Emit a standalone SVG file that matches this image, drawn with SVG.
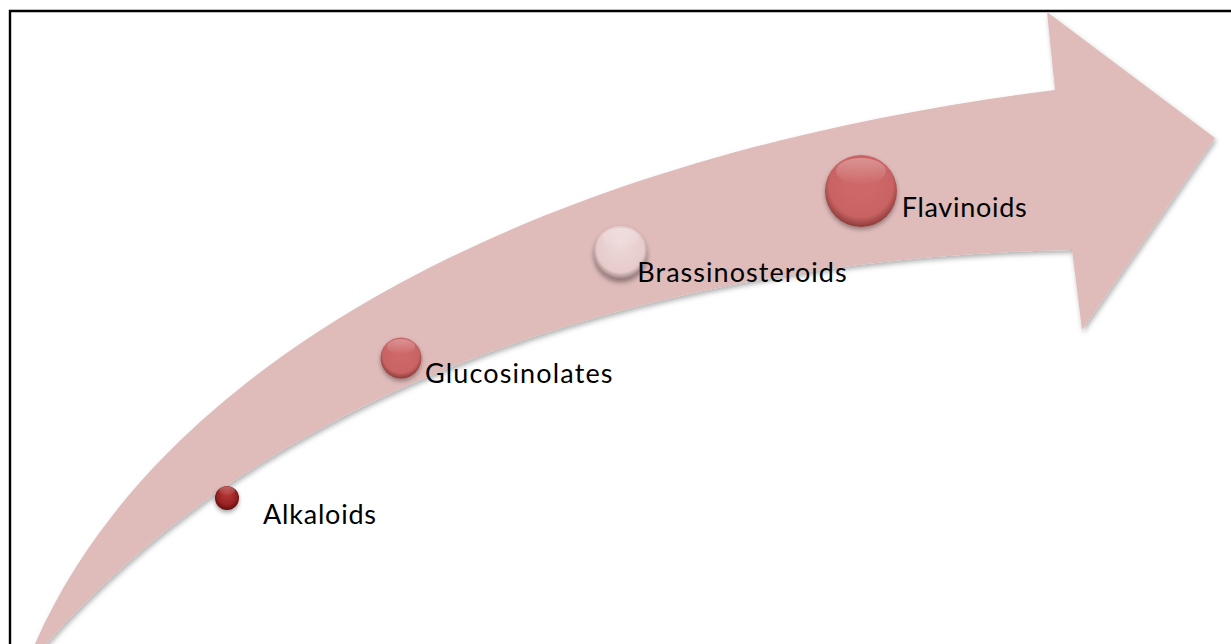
<svg xmlns="http://www.w3.org/2000/svg" width="1231" height="644" viewBox="0 0 1231 644">
  <defs>
    <style>
      .label { font-family: Lato, "Open Sans", "Liberation Sans", sans-serif; font-size: 27px; fill: #000; }
      .frame { fill: none; stroke: #000; stroke-width: 2.4; }
    </style>
    <filter id="arrowShadow" x="-5%" y="-5%" width="110%" height="115%">
      <feDropShadow dx="1.5" dy="3" stdDeviation="2.5" flood-color="#000" flood-opacity="0.3"/>
    </filter>
    <filter id="ballShadow" x="-30%" y="-30%" width="160%" height="170%">
      <feDropShadow dx="0" dy="2.5" stdDeviation="2" flood-color="#000" flood-opacity="0.35"/>
    </filter>
    <radialGradient id="gDark" cx="50%" cy="45%" r="55%" fx="50%" fy="30%">
      <stop offset="0" stop-color="#b83a3a"/>
      <stop offset="0.7" stop-color="#9a2222"/>
      <stop offset="1" stop-color="#5e0e0e"/>
    </radialGradient>
    <radialGradient id="gMid" cx="50%" cy="45%" r="55%" fx="50%" fy="30%">
      <stop offset="0" stop-color="#d06a6a"/>
      <stop offset="0.8" stop-color="#c96464"/>
      <stop offset="1" stop-color="#8e3a3a"/>
    </radialGradient>
    <radialGradient id="gLight" cx="50%" cy="45%" r="55%" fx="50%" fy="30%">
      <stop offset="0" stop-color="#efd9d9"/>
      <stop offset="0.8" stop-color="#e6cbcb"/>
      <stop offset="1" stop-color="#8f7373"/>
    </radialGradient>
    <linearGradient id="gloss" x1="0" y1="0" x2="0" y2="1">
      <stop offset="0" stop-color="#fff" stop-opacity="0.3"/>
      <stop offset="1" stop-color="#fff" stop-opacity="0"/>
    </linearGradient>
  </defs>

  <rect width="1231" height="644" fill="#fff"/>
  <path class="frame" d="M10,644 V11 H1231"/>

  <g id="arrow">
    <path filter="url(#arrowShadow)" fill="#dfbbba" d="M35,644
      C150,380 500,160 1055,90
      L1047,12 L1215,138 L1082,330 L1072,250
      C750,255 315,340 46,644 Z"/>
  </g>

  <g id="connectors"></g>

  <g id="node-alkaloids">
    <circle cx="227" cy="498" r="12" fill="url(#gDark)" filter="url(#ballShadow)"/>
    <ellipse cx="227" cy="491" rx="8" ry="4.5" fill="url(#gloss)"/>
    <text class="label" x="263" y="524" textLength="113">Alkaloids</text>
  </g>

  <g id="node-glucosinolates">
    <circle cx="401" cy="358" r="20.5" fill="url(#gMid)" filter="url(#ballShadow)"/>
    <ellipse cx="401" cy="346.5" rx="14" ry="7.5" fill="url(#gloss)"/>
    <text class="label" x="425" y="383.3" textLength="187.5">Glucosinolates</text>
  </g>

  <g id="node-brassinosteroids">
    <circle cx="620.5" cy="253" r="27" fill="url(#gLight)" filter="url(#ballShadow)"/>
    <ellipse cx="620.5" cy="238" rx="18.5" ry="10" fill="url(#gloss)"/>
    <text class="label" x="637.3" y="281.7" textLength="209.4">Brassinosteroids</text>
  </g>

  <g id="node-flavinoids">
    <circle cx="861" cy="191" r="36" fill="url(#gMid)" filter="url(#ballShadow)"/>
    <ellipse cx="861" cy="171" rx="25" ry="13" fill="url(#gloss)"/>
    <text class="label" x="901.7" y="216.7" textLength="125">Flavinoids</text>
  </g>
</svg>
